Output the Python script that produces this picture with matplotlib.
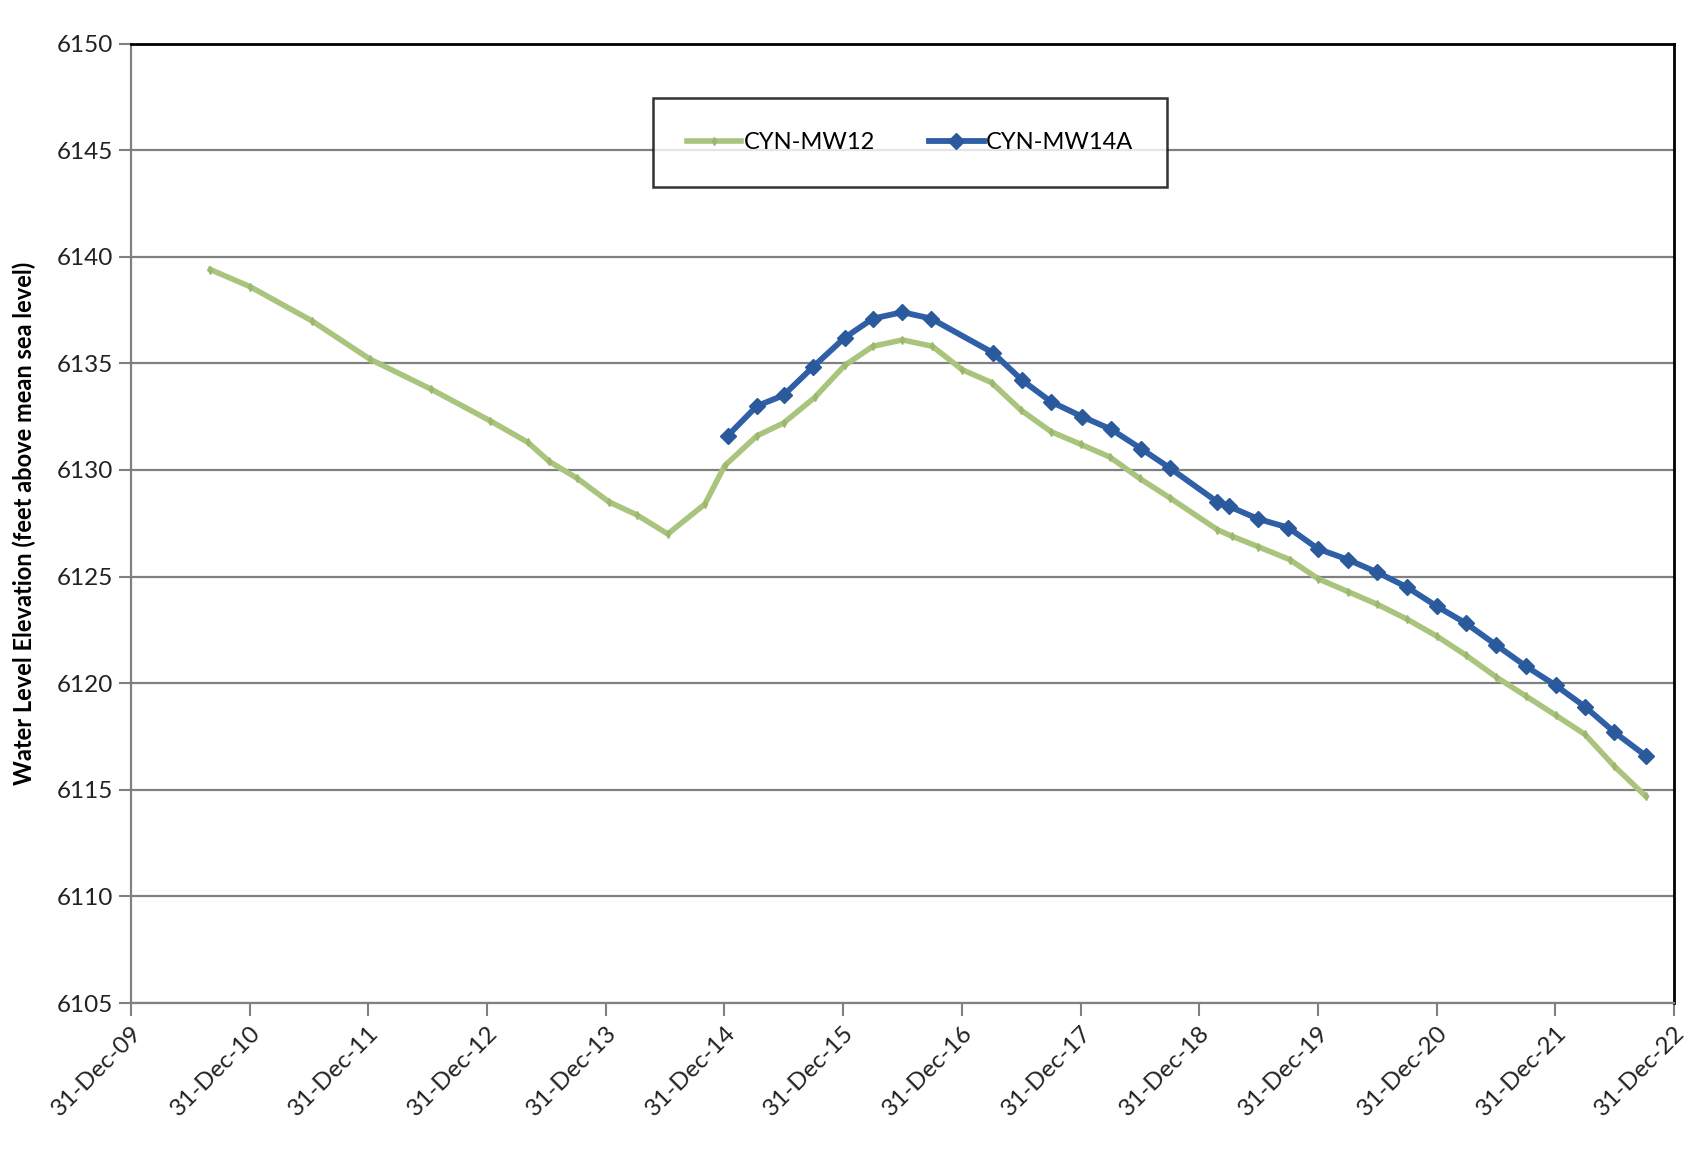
import matplotlib
matplotlib.use("Agg")
import matplotlib.pyplot as plt
import matplotlib.dates as mdates
import pandas as pd

# ---- data ----
mw12_dates = ["2010-09-01", "2011-01-01", "2011-07-10", "2012-01-05", "2012-07-10",
              "2013-01-10", "2013-05-05", "2013-07-10", "2013-10-05", "2014-01-10",
              "2014-04-05", "2014-07-10", "2014-11-01", "2015-01-01", "2015-04-10",
              "2015-07-01", "2015-10-05", "2016-01-05", "2016-04-01", "2016-07-01",
              "2016-10-01", "2017-01-01", "2017-04-01", "2017-07-01", "2017-10-01",
              "2018-01-01", "2018-04-01", "2018-07-01", "2018-10-01", "2019-02-25",
              "2019-04-10", "2019-07-01", "2019-10-05", "2020-01-01", "2020-04-01",
              "2020-07-01", "2020-10-01", "2021-01-01", "2021-04-01", "2021-07-01",
              "2021-10-01", "2022-01-01", "2022-04-01", "2022-07-01", "2022-10-05"]
mw12_values = [6139.4, 6138.6, 6137.0, 6135.2, 6133.8,
               6132.3, 6131.3, 6130.4, 6129.6, 6128.5,
               6127.9, 6127.0, 6128.4, 6130.2, 6131.6,
               6132.2, 6133.4, 6134.9, 6135.8, 6136.1,
               6135.8, 6134.7, 6134.1, 6132.8, 6131.8,
               6131.2, 6130.6, 6129.6, 6128.7, 6127.2,
               6126.9, 6126.4, 6125.8, 6124.9, 6124.3,
               6123.7, 6123.0, 6122.2, 6121.3, 6120.3,
               6119.4, 6118.5, 6117.6, 6116.1, 6114.7]

mw14a_dates = ["2015-01-10", "2015-04-10", "2015-07-01", "2015-10-01", "2016-01-05",
               "2016-04-01", "2016-07-01", "2016-09-27", "2017-04-05", "2017-07-05",
               "2017-10-01", "2018-01-05", "2018-04-05", "2018-07-05", "2018-10-01",
               "2019-02-25", "2019-04-01", "2019-07-01", "2019-10-01", "2020-01-01",
               "2020-04-01", "2020-07-01", "2020-10-01", "2021-01-01", "2021-04-01",
               "2021-07-01", "2021-10-01", "2022-01-01", "2022-04-01", "2022-07-01",
               "2022-10-05"]
mw14a_values = [6131.6, 6133.0, 6133.5, 6134.85, 6136.2,
                6137.1, 6137.4, 6137.1, 6135.5, 6134.2,
                6133.2, 6132.5, 6131.9, 6131.0, 6130.1,
                6128.5, 6128.3, 6127.7, 6127.3, 6126.3,
                6125.8, 6125.2, 6124.5, 6123.6, 6122.8,
                6121.8, 6120.8, 6119.9, 6118.9, 6117.7,
                6116.6]

series_names = ["CYN-MW12", "CYN-MW14A"]
xtick_dates = [f"{y}-12-31" for y in range(2009, 2023)]
ytick_values = list(range(6105, 6151, 5))

# ---- plot ----
plt.rcParams['font.family'] = ['Lato', 'DejaVu Sans']
fig = plt.figure(figsize=(16.9, 11.6), dpi=100)
ax = fig.add_axes([0.0775, 0.1353, 0.9130, 0.8272])

green = "#A9C47C"
blue = "#2F5FA6"

ax.plot(pd.to_datetime(mw12_dates), mw12_values, color=green, lw=4,
        marker="d", ms=4, mfc="#9DB86E", mec="#9DB86E", label=series_names[0], zorder=3)
ax.plot(pd.to_datetime(mw14a_dates), mw14a_values, color=blue, lw=4.2,
        marker="D", ms=8.5, mfc="#2B5A9C", mec="#2B5A9C", label=series_names[1], zorder=4)

ax.set_xlim(pd.Timestamp(xtick_dates[0]), pd.Timestamp(xtick_dates[-1]))
ax.set_ylim(6105, 6150)
ax.set_yticks(ytick_values)
ax.set_xticks(pd.to_datetime(xtick_dates))
ax.xaxis.set_major_formatter(mdates.DateFormatter("%d-%b-%y"))

ax.yaxis.grid(True, color="#808080", lw=1.6)
ax.set_axisbelow(True)

for s in ["left", "bottom"]:
    ax.spines[s].set_color("#808080")
    ax.spines[s].set_linewidth(1.6)
for s in ["top", "right"]:
    ax.spines[s].set_color("black")
    ax.spines[s].set_linewidth(2)

ax.tick_params(axis="both", direction="out", length=9, width=1.5, color="#808080",
               labelsize=17.5, labelcolor="#222222")
ax.tick_params(axis="y", pad=4)
ax.tick_params(axis="x", pad=5)
for lbl in ax.get_xticklabels():
    lbl.set_rotation(45)
    lbl.set_ha("right")
    lbl.set_va("top")
    lbl.set_rotation_mode("anchor")

ax.set_ylabel("Water Level Elevation (feet above mean sea level)", fontsize=17,
              fontweight="bold", labelpad=15)

leg = ax.legend(loc="center", bbox_to_anchor=(0.505, 0.897), ncol=2, fontsize=17,
                frameon=True, fancybox=False, edgecolor="black", borderpad=1.45,
                handlelength=2.3, handletextpad=0.1, columnspacing=2.3,
                borderaxespad=0)
leg.get_frame().set_linewidth(1.8)

fig.savefig("out.png", dpi=100, facecolor="white")
